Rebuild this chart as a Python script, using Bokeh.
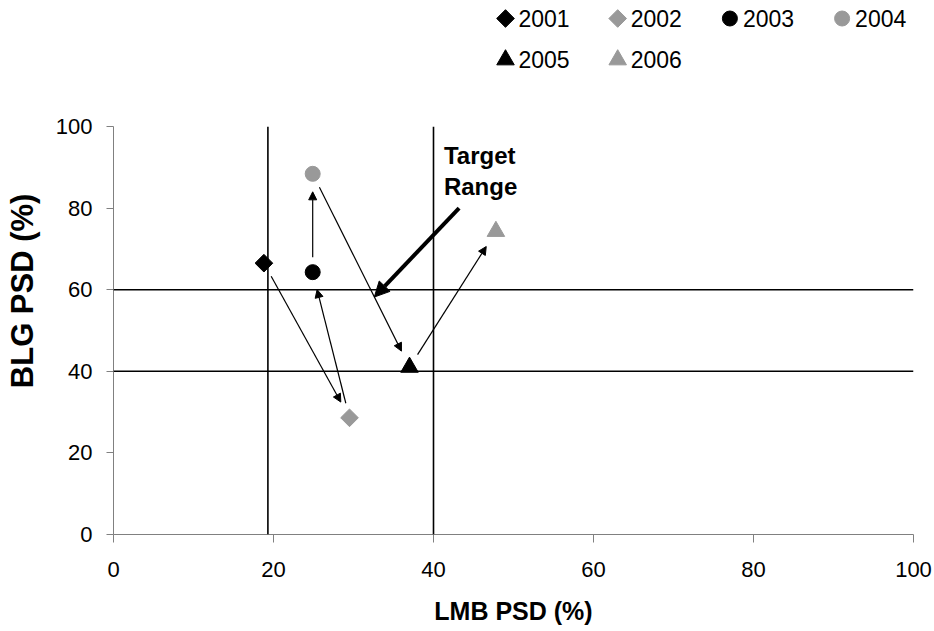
import math
from bokeh.plotting import figure
from bokeh.layouts import column, row
from bokeh.models import Range1d, Span, Arrow, NormalHead, Label
from bokeh.core.properties import value
from bokeh.embed import file_html
from bokeh.resources import INLINE

# ---- data ----
years = ["2001", "2002", "2003", "2004", "2005", "2006"]
lmb_psd = [18.8, 29.5, 24.9, 24.9, 37.0, 47.8]
blg_psd = [66.5, 28.6, 64.3, 88.4, 41.0, 74.3]
markers = ["square", "square", "circle", "circle", "triangle", "triangle"]
colors = ["#000000", "#999999", "#000000", "#999999", "#000000", "#999999"]
lmb_target = [19.3, 40.0]
blg_target = [40.0, 60.0]
ticks = [0, 20, 40, 60, 80, 100]
target_text = ["Target", "Range"]
target_arrow_tail = (43.2, 80.0)
target_arrow_tip = (32.6, 58.2)
x_title = "LMB PSD (%)"
y_title = "BLG PSD (%)"

# ---- style / layout ----
FONT = "Liberation Sans"
PAGE_W, PAGE_H = 934, 631
LEG_H = 80
YT_W = 45
FRAME_W, FRAME_H = 800, 408
marker_size = {"square": 12.5, "circle": 15, "triangle": 17.5}
marker_angle = {"square": math.pi / 4, "circle": 0.0, "triangle": 0.0}

def bare(fig):
    fig.grid.visible = False
    fig.outline_line_color = None
    fig.background_fill_color = "white"
    fig.border_fill_color = "white"

# ---------------- legend strip ----------------
leg = figure(width=PAGE_W, height=LEG_H, x_range=Range1d(0, PAGE_W), y_range=Range1d(0, LEG_H),
             min_border=0, min_border_left=0, min_border_right=0, min_border_top=0, min_border_bottom=0,
             x_axis_location=None, y_axis_location=None,
             output_backend="svg", toolbar_location=None)
bare(leg)
LEG_X0, LEG_DX, LEG_Y0, LEG_DY, LEG_TXT_DX, LEG_NCOLS = 505, 112.2, 18, 41.3, 13, 4
for i, (yr, m, c) in enumerate(zip(years, markers, colors)):
    gx = LEG_X0 + (i % LEG_NCOLS) * LEG_DX
    gy = LEG_H - (LEG_Y0 + (i // LEG_NCOLS) * LEG_DY)
    leg.scatter([gx], [gy], marker=m, size=marker_size[m], angle=marker_angle[m],
                fill_color=c, line_color=c, line_width=1)
    leg.text([gx + LEG_TXT_DX], [gy], text=[yr], text_font=value(FONT), text_font_size="23px",
             text_baseline="middle", text_align="left", text_color="black")

# ---------------- y title strip ----------------
main_h = PAGE_H - LEG_H
yt = figure(width=YT_W, height=main_h, x_range=Range1d(0, YT_W), y_range=Range1d(0, main_h),
            min_border=0, min_border_left=0, min_border_right=0, min_border_top=0, min_border_bottom=0,
            x_axis_location=None, y_axis_location=None,
            output_backend="svg", toolbar_location=None)
bare(yt)
yt.text([21.5], [main_h - (302 - LEG_H)], text=[y_title], angle=math.pi / 2,
        text_font=value(FONT), text_font_style="bold", text_font_size="31px",
        text_align="center", text_baseline="alphabetic", text_color="black")

# ---------------- main chart ----------------
p = figure(frame_width=FRAME_W, frame_height=FRAME_H,
           min_border_left=113 - YT_W, min_border_right=PAGE_W - 113 - FRAME_W,
           min_border_top=126 - LEG_H, min_border_bottom=main_h - (126 - LEG_H) - FRAME_H,
           x_range=Range1d(0, 100), y_range=Range1d(0, 100),
           output_backend="svg", toolbar_location=None)
bare(p)

for ax in (p.xaxis[0], p.yaxis[0]):
    ax.ticker = ticks
    ax.axis_line_color = "#808080"
    ax.major_tick_line_color = "#808080"
    ax.major_tick_in = 0
    ax.minor_tick_line_color = None
    ax.major_label_text_font = FONT
    ax.major_label_text_font_size = "22px"
    ax.major_label_text_color = "black"

p.xaxis.major_tick_out = 8
p.yaxis.major_tick_out = 7
p.xaxis.major_label_standoff = 19
p.yaxis.major_label_standoff = 14
p.xaxis.axis_label = x_title
p.xaxis.axis_label_text_font = FONT
p.xaxis.axis_label_text_font_style = "bold"
p.xaxis.axis_label_text_font_size = "25px"
p.xaxis.axis_label_text_color = "black"
p.xaxis.axis_label_standoff = 17

# target range lines
for v in lmb_target:
    p.add_layout(Span(location=v, dimension="height", line_color="black", line_width=1.6))
for v in blg_target:
    p.add_layout(Span(location=v, dimension="width", line_color="black", line_width=1.6))

# year-to-year arrows, computed from consecutive points (shortened in pixel space)
sx = FRAME_W / 100.0
sy = FRAME_H / 100.0
GAP0, GAP1 = 15.0, 18.0
for i in range(len(years) - 1):
    x0, y0 = lmb_psd[i] * sx, blg_psd[i] * sy
    x1, y1 = lmb_psd[i + 1] * sx, blg_psd[i + 1] * sy
    dx, dy = x1 - x0, y1 - y0
    L = math.hypot(dx, dy)
    ux, uy = dx / L, dy / L
    xs, ys = (x0 + ux * GAP0) / sx, (y0 + uy * GAP0) / sy
    xe, ye = (x1 - ux * GAP1) / sx, (y1 - uy * GAP1) / sy
    p.add_layout(Arrow(end=NormalHead(size=8, fill_color="black", line_color="black", line_width=1),
                       x_start=xs, y_start=ys, x_end=xe, y_end=ye,
                       line_color="black", line_width=1.2))

# target range pointer
p.add_layout(Arrow(end=NormalHead(size=15, fill_color="black", line_color="black", line_width=1),
                   x_start=target_arrow_tail[0], y_start=target_arrow_tail[1],
                   x_end=target_arrow_tip[0], y_end=target_arrow_tip[1],
                   line_color="black", line_width=4))

# points
for yr, xv, yv, m, c in zip(years, lmb_psd, blg_psd, markers, colors):
    p.scatter([xv], [yv], marker=m, size=marker_size[m], angle=marker_angle[m],
              fill_color=c, line_color=c, line_width=1)

# "Target Range" text
p.add_layout(Label(x=41.3, y=89.6, text=target_text[0], text_font=FONT,
                   text_font_style="bold", text_font_size="24px", text_color="black"))
p.add_layout(Label(x=41.3, y=82.1, text=target_text[1], text_font=FONT,
                   text_font_style="bold", text_font_size="24px", text_color="black"))

layout = column(leg, row(yt, p, spacing=0), spacing=0)
open("out.html", "w").write(file_html(layout, INLINE))
